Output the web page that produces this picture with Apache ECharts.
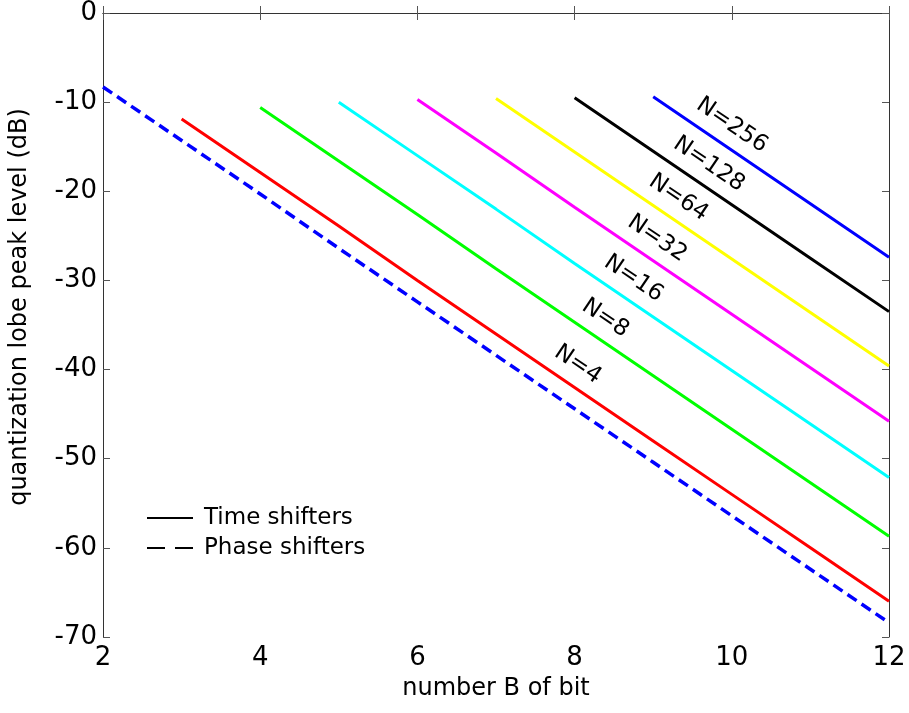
<!DOCTYPE html>
<html>
<head>
<meta charset="utf-8">
<script src="https://cdn.jsdelivr.net/npm/echarts@6/dist/echarts.min.js"></script>
<style>
  html, body { margin: 0; padding: 0; background: #fff; }
  #chart { width: 909px; height: 713px; }
</style>
</head>
<body>
<div id="chart"></div>
<script>
// Quantization lobe peak level (dB) versus number of bits B
const phaseBits = [2, 3, 4, 5, 6, 7, 8, 9, 10, 11, 12];
const phaseShifters = [-8.3, -14.3, -20.3, -26.4, -32.4, -38.4, -44.4, -50.4, -56.4, -62.4, -68.4];

// Time shifters, one line per subarray size N (first bit = log2(N) + 1)
const sizesN = [4, 8, 16, 32, 64, 128, 256];
const firstBit = [3, 4, 5, 6, 7, 8, 9];
const timeN4   = [-11.9, -17.9, -23.9, -30.0, -36.0, -42.0, -48.0, -54.0, -60.0, -66.0];
const timeN8   = [-10.6, -16.6, -22.6, -28.7, -34.7, -40.7, -46.7, -52.7, -58.7];
const timeN16  = [-10.0, -16.0, -22.0, -28.1, -34.1, -40.1, -46.1, -52.1];
const timeN32  = [-9.7, -15.7, -21.8, -27.8, -33.8, -39.8, -45.8];
const timeN64  = [-9.6, -15.6, -21.6, -27.6, -33.6, -39.6];
const timeN128 = [-9.5, -15.5, -21.5, -27.5, -33.5];
const timeN256 = [-9.4, -15.4, -21.4, -27.4];
const timeSeries = [timeN4, timeN8, timeN16, timeN32, timeN64, timeN128, timeN256];

const xTicks = [2, 4, 6, 8, 10, 12];
const yTicks = [0, -10, -20, -30, -40, -50, -60, -70];

// Layout: bit position where each "N=" label sits along its line, and the lift above it (dB)
const labelBit = [8.04, 8.39, 8.75, 9.05, 9.32, 9.71, 10.0];
const labelLift = 2.8;
const lineColors = ['#ff0000', '#00ff00', '#00ffff', '#ff00ff', '#ffff00', '#000000', '#0000ff'];

const FONT = '"DejaVu Sans", "Liberation Sans", Arial, sans-serif';

function pairs(startBit, values) {
  return values.map((v, i) => [startBit + i, v]);
}
function valueAt(data, b) {
  for (let i = 0; i < data.length - 1; i++) {
    const [x0, y0] = data[i], [x1, y1] = data[i + 1];
    if (b >= x0 && b <= x1) return y0 + (y1 - y0) * (b - x0) / (x1 - x0);
  }
  return data[data.length - 1][1];
}

const series = [];
timeSeries.forEach((vals, k) => {
  const data = pairs(firstBit[k], vals);
  series.push({
    type: 'line',
    name: 'N=' + sizesN[k],
    data: data,
    symbol: 'none',
    silent: true,
    lineStyle: { color: lineColors[k], width: 3 },
    itemStyle: { color: lineColors[k] },
    z: 3,
    markPoint: {
      symbol: 'circle',
      symbolSize: 0,
      silent: true,
      label: {
        show: true,
        position: 'inside',
        formatter: 'N=' + sizesN[k],
        rotate: -34,
        color: '#000',
        fontFamily: FONT,
        fontSize: 23
      },
      data: [{ coord: [labelBit[k], valueAt(data, labelBit[k]) + labelLift] }]
    }
  });
});

series.push({
  type: 'line',
  name: 'phase',
  data: pairs(phaseBits[0], phaseShifters),
  symbol: 'none',
  silent: true,
  lineStyle: { color: '#0000ff', width: 3.5, type: [11, 6] },
  z: 3
});

// Legend entries (black samples)
series.push({ type: 'line', name: 'Time shifters', data: [], symbol: 'none',
  lineStyle: { color: '#000', width: 2 }, itemStyle: { color: '#000' } });
series.push({ type: 'line', name: 'Phase shifters', data: [], symbol: 'none',
  lineStyle: { color: '#000', width: 2, type: [17, 9] }, itemStyle: { color: '#000' } });

const axisLine = { show: true, lineStyle: { color: '#333', width: 1 } };
const tickStyle = { show: true, inside: true, length: 7, lineStyle: { color: '#555' } };

const chart = echarts.init(document.getElementById('chart'), null, { renderer: 'canvas' });
chart.setOption({
  animation: false,
  backgroundColor: '#fff',
  grid: { left: 97, right: 20, top: 13, bottom: 76, containLabel: false },
  legend: {
    orient: 'vertical',
    left: 142,
    top: 499,
    itemWidth: 46,
    itemHeight: 2,
    itemGap: 2,
    data: [
      { name: 'Time shifters', icon: 'path://M0,0h46v2h-46z' },
      { name: 'Phase shifters', icon: 'path://M0,0h18v2h-18z M28,0h18v2h-18z' }
    ],
    itemStyle: { color: '#000' },
    textStyle: { color: '#000', fontFamily: FONT, fontSize: 23, lineHeight: 28, padding: [0, 0, 0, 6] },
    selectedMode: false
  },
  xAxis: [{
    type: 'value', min: 2, max: 12, interval: 2,
    name: 'number B of bit', nameLocation: 'middle', nameGap: 40,
    nameTextStyle: { color: '#000', fontFamily: FONT, fontSize: 24 },
    axisLine: axisLine, axisTick: tickStyle,
    axisLabel: { color: '#000', fontFamily: FONT, fontSize: 26, margin: 8,
      formatter: v => xTicks.includes(v) ? String(v) : '' },
    splitLine: { show: false }
  }, {
    type: 'value', min: 2, max: 12, interval: 2, position: 'top',
    axisLine: axisLine, axisTick: tickStyle, axisLabel: { show: false }, splitLine: { show: false }
  }],
  yAxis: [{
    type: 'value', min: -70, max: 0, interval: 10,
    name: 'quantization lobe peak level (dB)', nameLocation: 'middle', nameGap: 71,
    nameTextStyle: { color: '#000', fontFamily: FONT, fontSize: 24, padding: [0, 0, 0, 36] },
    axisLine: axisLine, axisTick: tickStyle,
    axisLabel: { color: '#000', fontFamily: FONT, fontSize: 26, margin: 6,
      formatter: v => yTicks.includes(v) ? String(v) : '' },
    splitLine: { show: false }
  }, {
    type: 'value', min: -70, max: 0, interval: 10, position: 'right',
    axisLine: axisLine, axisTick: tickStyle, axisLabel: { show: false }, splitLine: { show: false }
  }],
  series: series
});
</script>
</body>
</html>
